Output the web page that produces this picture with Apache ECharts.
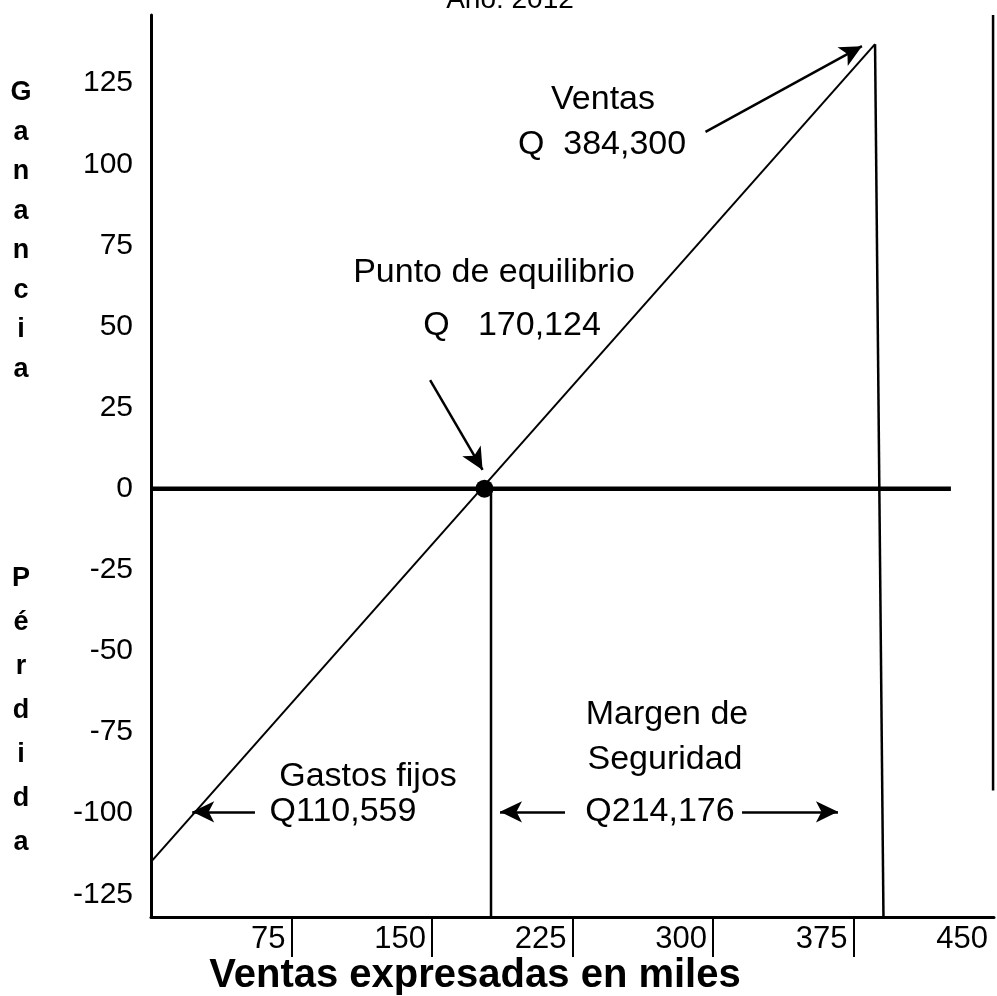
<!DOCTYPE html>
<html lang="es">
  <head>
    <meta charset="UTF-8" />
    <script src="https://cdn.jsdelivr.net/npm/echarts@6/dist/echarts.min.js"></script>
    <style>
      html,
      body {
        margin: 0;
        overflow: hidden;
        background: #fff;
      }
      #viewport {
        position: absolute;
        left: 0px;
        top: 0px;
        width: 997px;
        height: 996px;
      }
    </style>
  </head>
  <body>
    <div id="viewport"></div>
    <script>
      // tick labels
      var xTicks = [75, 150, 225, 300, 375];
      var xLabels = [75, 150, 225, 300, 375, 450];
      var yLabels = [-125, -100, -75, -50, -25, 0, 25, 50, 75, 100, 125];

      // lines (x in miles, y ganancia / pérdida)
      var ventasLine = [[0, -115], [386.5, 137]];
      var zeroLine = [[0, 0], [427, 0]];
      var puntoEquilibrio = [[178, 0]];
      var equilibrioDrop = [[181.5, 0], [181.5, -132]];
      var ventasDrop = [[386.5, 137], [391, -132]];
      var rightEdge = [[449.5, 146], [449.5, -93]];

      // annotation arrows [from, to]
      var arrows = [
        [[296, 110], [379.5, 136.4]],
        [[149, 33.5], [177, 5.8]],
        [[55.5, -99.6], [22, -99.6]],
        [[221, -99.6], [186.3, -99.6]],
        [[315.5, -99.6], [366.7, -99.6]]
      ];

      var font = 'Liberation Sans, Arial, sans-serif';

      var myChart = echarts.init(document.getElementById('viewport'));

      function plain(data, width) {
        return {
          type: 'line',
          data: data,
          symbol: 'none',
          clip: false,
          silent: true,
          lineStyle: { color: '#000', width: width }
        };
      }

      function txt(text, x, y, size, bold, lineHeight) {
        return {
          type: 'text',
          x: x,
          y: y,
          silent: true,
          style: {
            text: text,
            font: (bold ? 'bold ' : '') + size + 'px ' + font,
            fill: '#000',
            align: 'center',
            verticalAlign: lineHeight ? 'top' : 'middle',
            lineHeight: lineHeight || size
          }
        };
      }

      var option = {
        animation: false,
        backgroundColor: '#fff',
        grid: {
          left: 151,
          right: 3,
          top: 15,
          bottom: 79,
          containLabel: false,
          outerBoundsMode: 'none'
        },
        xAxis: {
          type: 'value',
          min: 0,
          max: 450,
          axisLine: { show: true, onZero: false, lineStyle: { color: '#000', width: 3 } },
          axisTick: {
            show: true,
            length: 40,
            customValues: xTicks,
            lineStyle: { color: '#000', width: 2 }
          },
          axisLabel: {
            customValues: xLabels,
            align: 'right',
            padding: [0, 6, 0, 0],
            margin: 7,
            color: '#000',
            fontFamily: font,
            fontSize: 31
          },
          splitLine: { show: false }
        },
        yAxis: {
          type: 'value',
          min: -132,
          max: 146,
          axisLine: { show: true, lineStyle: { color: '#000', width: 3 } },
          axisTick: { show: false },
          axisLabel: {
            customValues: yLabels,
            margin: 18,
            color: '#000',
            fontFamily: font,
            fontSize: 30
          },
          splitLine: { show: false }
        },
        graphic: [
          txt('Año: 2012', 510, 0, 28, false),
          txt('G\na\nn\na\nn\nc\ni\na', 21, 73, 27, true, 39.5),
          txt('P\né\nr\nd\ni\nd\na', 21, 557, 27, true, 44),
          txt('Ventas', 603, 100, 34, false),
          txt('Q  384,300', 602, 145, 34, false),
          txt('Punto de equilibrio', 494, 273, 34, false),
          txt('Q   170,124', 512, 326, 34, false),
          txt('Margen de', 667, 715, 34, false),
          txt('Seguridad', 665, 760, 34, false),
          txt('Gastos fijos', 368, 777, 34, false),
          txt('Q110,559', 343, 812, 34, false),
          txt('Q214,176', 660, 812, 34, false),
          txt('Ventas expresadas en miles', 475, 976, 40, true)
        ],
        series: [
          plain(zeroLine, 4.5),
          plain(ventasLine, 2),
          plain(equilibrioDrop, 2.5),
          plain(ventasDrop, 2.5),
          plain(rightEdge, 2.5),
          {
            type: 'scatter',
            data: puntoEquilibrio,
            symbolSize: 18,
            itemStyle: { color: '#000', opacity: 1 },
            silent: true,
            z: 5
          },
          {
            type: 'line',
            data: [],
            silent: true,
            markLine: {
              silent: true,
              symbol: ['none', 'arrow'],
              symbolSize: [16, 22],
              label: { show: false },
              lineStyle: { color: '#000', width: 2.5, type: 'solid', opacity: 1 },
              data: arrows.map(function (a) {
                return [{ coord: a[0] }, { coord: a[1] }];
              })
            }
          }
        ]
      };

      myChart.setOption(option);
    </script>
  </body>
</html>
